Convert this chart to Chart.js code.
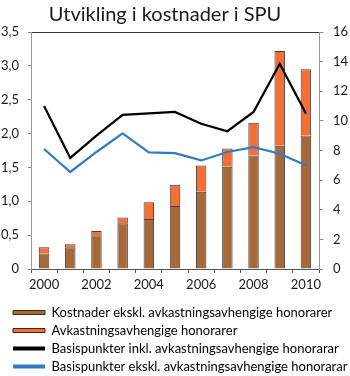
<!DOCTYPE html>
<html>
<head>
<meta charset="utf-8">
<script src="https://cdn.jsdelivr.net/npm/chart.js@4"></script>
<style>
  html, body { margin: 0; padding: 0; background: #fff; }
  canvas { display: block; }
</style>
</head>
<body>
<canvas id="chart" width="350" height="376"></canvas>
<script>
const titleText = "Utvikling i kostnader i SPU";
const years = ["2000", "2001", "2002", "2003", "2004", "2005", "2006", "2007", "2008", "2009", "2010"];
const costExcl = [0.23, 0.32, 0.50, 0.675, 0.74, 0.93, 1.14, 1.51, 1.675, 1.82, 1.97];
const perfFees = [0.09, 0.045, 0.06, 0.085, 0.245, 0.315, 0.39, 0.27, 0.485, 1.40, 0.98];
const bpIncl = [11.0, 7.5, 9.0, 10.4, 10.5, 10.6, 9.8, 9.3, 10.6, 13.85, 10.5];
const bpExcl = [8.1, 6.55, 7.9, 9.15, 7.87, 7.82, 7.33, 7.9, 8.23, 7.78, 7.0];
const seriesNames = [
  "Kostnader ekskl. avkastningsavhengige honorarer",
  "Avkastningsavhengige honorarer",
  "Basispunkter inkl. avkastningsavhengige honorarar",
  "Basispunkter ekskl. avkastningsavhengige honorarar"
];

const brown = "#a5693a";
const orange = "#f36f36";
const blue = "#2f7bc4";
const textColor = "#1a1a1a";
const fontFamily = "Lato, 'Open Sans', sans-serif";

// title drawn by hand so it can sit a bit left of centre, like the original
const titlePlugin = {
  id: "fixedTitle",
  afterLayout(chart) {
    // legend rows start at x=13 and first row centred near y=313
    chart.legend.left = 8;
    chart.legend.top = 301;
  },
  afterDraw(chart) {
    const ctx = chart.ctx;
    ctx.save();
    ctx.font = "20px " + fontFamily;
    ctx.fillStyle = textColor;
    ctx.textAlign = "center";
    ctx.textBaseline = "alphabetic";
    ctx.fillText(titleText, 165, 21);
    ctx.restore();
  }
};

new Chart(document.getElementById("chart"), {
  type: "bar",
  data: {
    labels: years,
    datasets: [
      { type: "line", label: seriesNames[2], data: bpIncl, yAxisID: "y1", borderColor: "#000", borderWidth: 2.2, pointRadius: 0, tension: 0, order: 0 },
      { type: "line", label: seriesNames[3], data: bpExcl, yAxisID: "y1", borderColor: blue, borderWidth: 2.2, pointRadius: 0, tension: 0, order: 0 },
      { label: seriesNames[0], data: costExcl, backgroundColor: brown, borderColor: "rgba(40,28,20,0.85)", borderWidth: 1, barPercentage: 0.4, categoryPercentage: 1, order: 1 },
      { label: seriesNames[1], data: perfFees, backgroundColor: orange, borderColor: "rgba(40,28,20,0.85)", borderWidth: 1, barPercentage: 0.4, categoryPercentage: 1, order: 1 }
    ]
  },
  options: {
    responsive: false,
    animation: false,
    layout: { padding: { left: 0, right: 0, top: 32, bottom: 0 } },
    plugins: {
      tooltip: { enabled: false },
      title: { display: false },
      legend: {
        position: "bottom",
        align: "start",
        labels: {
          color: textColor,
          font: { family: fontFamily, size: 13 },
          boxWidth: 32,
          boxHeight: 4,
          padding: 5,
          generateLabels: () => [
            { text: seriesNames[0], fillStyle: brown, strokeStyle: "#3a2818", lineWidth: 1, datasetIndex: 2 },
            { text: seriesNames[1], fillStyle: orange, strokeStyle: "#3a2818", lineWidth: 1, datasetIndex: 3 },
            { text: seriesNames[2], fillStyle: "#000", strokeStyle: "#000", lineWidth: 0, datasetIndex: 0 },
            { text: seriesNames[3], fillStyle: blue, strokeStyle: blue, lineWidth: 0, datasetIndex: 1 }
          ]
        }
      }
    },
    scales: {
      x: {
        stacked: true,
        afterFit: s => { s.height = 376 - 269 - s.chart.legend.height; },
        border: { color: "#555" },
        grid: { offset: true, drawOnChartArea: false, tickLength: 4, color: "#555" },
        ticks: {
          color: textColor, autoSkip: false, maxRotation: 0, padding: 4,
          font: { family: fontFamily, size: 13 },
          callback: (v, i) => (i % 2 === 0 ? years[i] : "")
        }
      },
      y: {
        stacked: true,
        min: 0, max: 3.5,
        afterFit: s => { s.width = 31; },
        border: { color: "#999" },
        grid: {
          drawOnChartArea: true, tickLength: 3, tickColor: "#888",
          color: ctx => (ctx.tick && ctx.tick.value === 3.5 ? "#333" : "transparent")
        },
        ticks: {
          stepSize: 0.5, color: textColor, padding: 9,
          font: { family: fontFamily, size: 13 },
          callback: v => (v === 0 ? "0" : v.toFixed(1).replace(".", ","))
        }
      },
      y1: {
        position: "right",
        min: 0, max: 16,
        afterFit: s => { s.width = 31; },
        border: { color: "#999" },
        grid: { drawOnChartArea: false, tickLength: 4, color: "#888" },
        ticks: {
          stepSize: 2, color: textColor, padding: 10,
          font: { family: fontFamily, size: 13 }
        }
      }
    }
  },
  plugins: [titlePlugin]
});
</script>
</body>
</html>
